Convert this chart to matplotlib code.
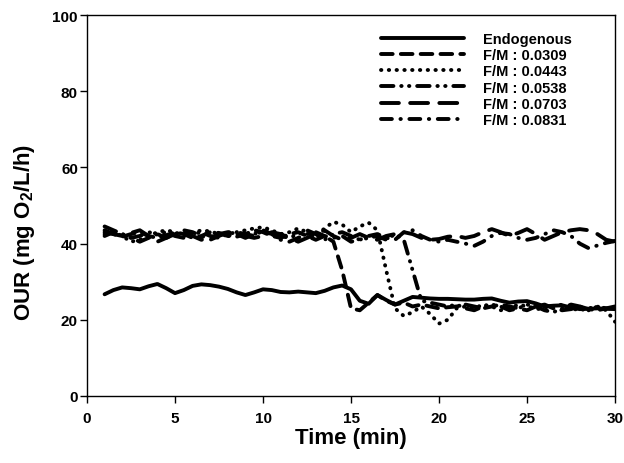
import numpy as np
import matplotlib
matplotlib.use("Agg")
from matplotlib import pyplot as plt

plt.rcParams['font.family'] = ['Liberation Sans', 'DejaVu Sans']
plt.rcParams['font.weight'] = 'bold'
plt.rcParams['mathtext.fontset'] = 'custom'
plt.rcParams['mathtext.rm'] = 'Liberation Sans:bold'
plt.rcParams['mathtext.bf'] = 'Liberation Sans:bold'

# time axis, readings every half minute
time_min = np.arange(1.0, 30.01, 0.5)

endogenous = [26.7, 27.8, 28.5, 28.3, 28.0, 28.8, 29.4, 28.3, 27.0, 27.8,
              28.9, 29.3, 29.1, 28.7, 28.1, 27.2, 26.5, 27.2, 28.0, 27.8,
              27.3, 27.2, 27.4, 27.2, 27.0, 27.6, 28.5, 29.0, 28.0, 25.0,
              24.2, 26.5, 25.2, 24.0, 25.0, 26.0, 25.8, 25.6, 25.5, 25.5,
              25.4, 25.3, 25.3, 25.5, 25.6, 25.0, 24.5, 24.8, 24.9, 24.3,
              23.5, 23.7, 23.8, 23.2, 22.8, 22.9, 23.0, 22.9, 22.8]

fm_0309 = [43.5, 42.5, 41.8, 42.5, 43.0, 42.0, 41.5, 42.2, 43.0, 42.5,
           41.5, 42.0, 43.0, 42.8, 42.0, 41.8, 42.5, 43.5, 43.0, 42.0,
           41.5, 42.5, 43.0, 42.0, 41.0, 42.0, 40.5, 33.0, 23.0, 22.5,
           24.5, 26.5, 25.0, 24.0, 24.5, 23.5, 24.0, 23.5, 23.0, 23.3,
           23.5, 24.0, 23.5, 23.0, 23.5, 24.0, 23.5, 23.0, 22.5, 23.5,
           24.0, 23.0, 22.5, 22.8, 23.5, 22.8, 22.5, 23.0, 23.0]

fm_0443 = [42.5, 43.0, 42.0, 40.5, 41.0, 42.0, 43.0, 43.5, 43.0, 42.0,
           42.8, 43.5, 43.2, 42.5, 42.0, 43.0, 43.5, 44.0, 44.3, 43.5,
           42.5, 43.0, 44.0, 43.0, 42.0, 44.0, 45.7, 45.0, 43.0, 44.5,
           45.5, 43.5, 33.0, 23.0, 21.0, 22.0, 23.5, 21.5, 19.0, 20.0,
           23.0, 23.5, 23.0, 24.0, 23.5, 22.5, 23.0, 24.0, 23.5, 23.0,
           22.5, 23.5, 24.0, 23.0, 22.5, 23.0, 23.5, 22.5, 19.5]

fm_0538 = [44.5, 43.5, 42.5, 41.5, 40.5, 41.5, 42.5, 43.0, 42.0, 41.5,
           42.5, 43.0, 42.0, 41.5, 42.5, 43.0, 42.5, 42.0, 43.5, 43.0,
           42.0, 41.5, 42.5, 43.5, 42.5, 41.0, 42.5, 43.0, 42.0, 41.0,
           41.5, 42.0, 41.0, 42.5, 41.0, 33.0, 25.0, 24.5, 24.0, 23.5,
           24.0, 23.0, 22.5, 23.5, 24.0, 23.5, 22.5, 23.0, 24.0, 23.5,
           22.5, 22.0, 23.0, 24.0, 23.5, 22.5, 23.5, 23.0, 23.5]

fm_0703 = [43.0, 42.5, 42.0, 42.8, 43.5, 42.0, 40.5, 41.5, 42.5, 43.0,
           42.0, 41.0, 41.5, 42.5, 43.0, 42.5, 42.0, 41.5, 42.0, 43.0,
           42.5, 41.5, 40.5, 41.5, 42.5, 43.5, 42.0, 41.0, 41.5, 42.5,
           41.5, 41.0, 42.0, 42.5, 43.0, 42.5, 41.5, 41.0, 41.2, 41.8,
           42.0, 41.5, 42.0, 43.0, 43.8, 43.0, 42.0, 42.8, 43.8, 42.5,
           41.0, 42.0, 43.0, 43.5, 43.8, 43.5, 42.5, 41.0, 40.5]

fm_0831 = [42.0, 43.0, 42.5, 41.5, 42.0, 43.0, 42.5, 41.5, 42.5, 43.5,
           43.0, 42.0, 41.0, 42.0, 43.0, 42.5, 41.5, 42.5, 43.5, 42.5,
           41.0, 40.5, 41.5, 42.5, 43.0, 42.0, 41.5, 42.0, 40.5, 41.0,
           42.0, 42.5, 41.5, 41.0, 43.0, 43.5, 42.0, 41.0, 40.5, 41.0,
           40.5, 40.0, 39.4, 40.5, 42.0, 42.8, 42.5, 41.5, 41.0, 41.5,
           42.5, 43.5, 43.0, 42.0, 40.0, 38.8, 39.5, 40.2, 40.7]

labels = ['Endogenous', 'F/M : 0.0309', 'F/M : 0.0443',
          'F/M : 0.0538', 'F/M : 0.0703', 'F/M : 0.0831']
series = [endogenous, fm_0309, fm_0443, fm_0538, fm_0703, fm_0831]
dashes = [None, (3.0, 2.1), (0.1, 1.9), (3.2, 2.0, 0.1, 1.9, 0.1, 2.0),
          (4.6, 2.9), (2.8, 2.2, 0.1, 2.2)]

fig = plt.figure(figsize=(6.24, 4.64), dpi=100)
ax = fig.add_axes([87 / 624, 67 / 464, 528 / 624, 381 / 464])

for y, lab, d in zip(series, labels, dashes):
    line, = ax.plot(time_min, y, color='black', lw=2.8, label=lab,
                    solid_capstyle='round', dash_capstyle='round')
    if d is not None:
        line.set_dashes(d)

ax.set_xlim(0, 30)
ax.set_ylim(0, 100)
ax.set_xticks(range(0, 31, 5))
ax.set_yticks(range(0, 101, 20))
ax.tick_params(direction='out', length=5, width=1, labelsize=11)
ax.tick_params(axis='x', pad=5.5)
ax.tick_params(axis='y', pad=1.5)
for lab in ax.get_xticklabels() + ax.get_yticklabels():
    lab.set_fontweight('bold')
for s in ax.spines.values():
    s.set_linewidth(1)

ax.set_xlabel('Time (min)', fontsize=16, fontweight='bold')
ax.set_ylabel(r'OUR (mg O$_\mathbf{2}$/L/h)', fontsize=16, fontweight='bold')
ax.xaxis.set_label_coords(0.5, -0.081)
ax.yaxis.set_label_coords(-0.095, 0.433)

ax.legend(loc='upper left', bbox_to_anchor=(381 / 624, 1 - 33 / 464),
          bbox_transform=fig.transFigure, frameon=False,
          handlelength=5.7, handletextpad=1.3, labelspacing=0.15,
          borderpad=0, borderaxespad=0, prop={'weight': 'bold', 'size': 10.5})

fig.savefig('out.png', dpi=100)
